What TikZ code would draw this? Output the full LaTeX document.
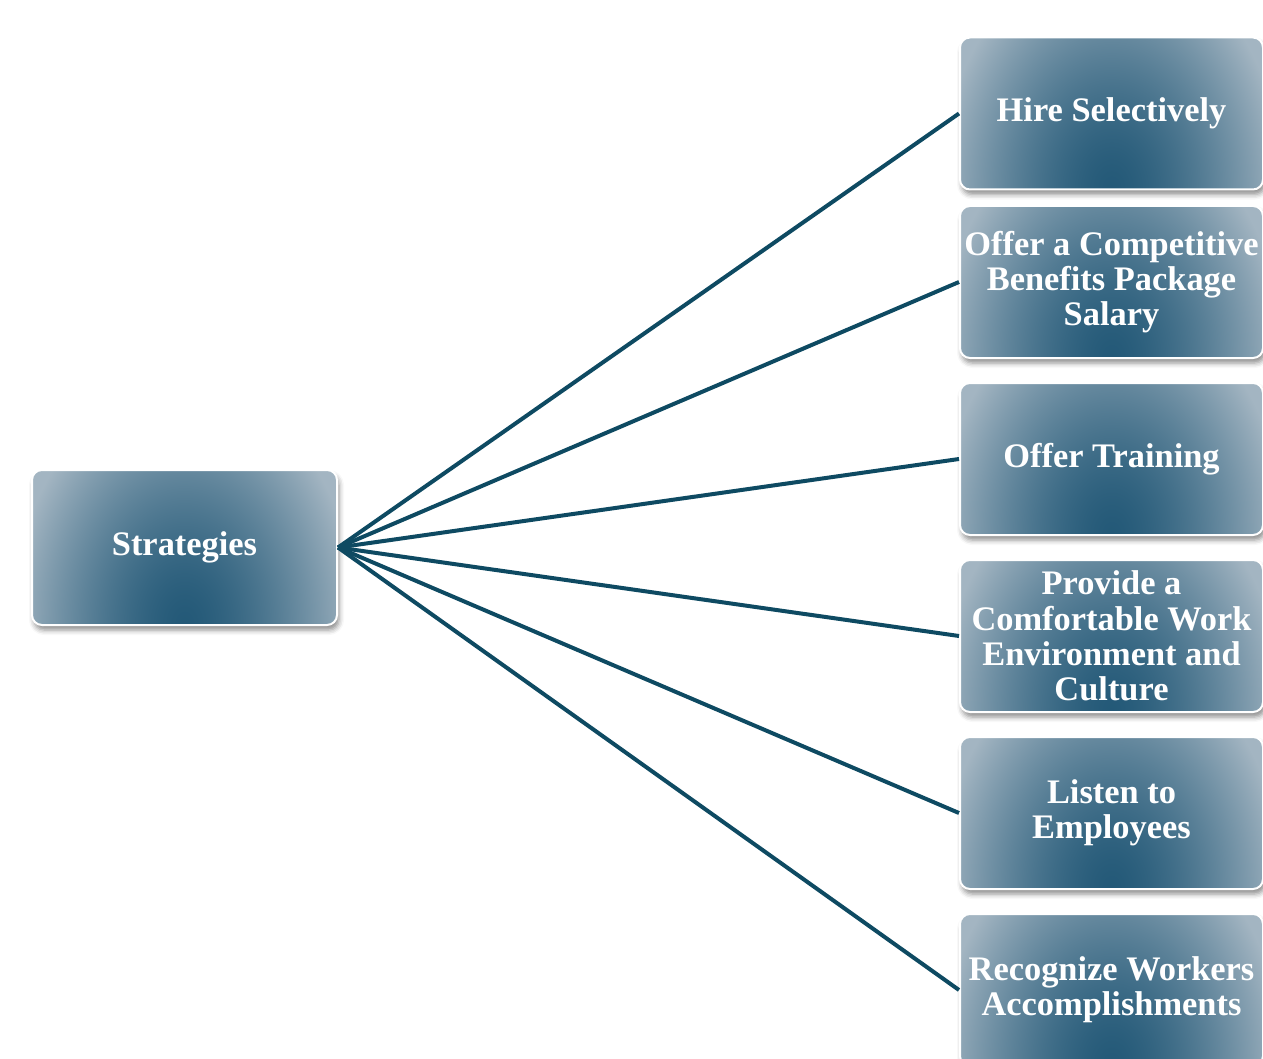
\documentclass[tikz,border=0pt]{standalone}
\usepackage{fontspec}
\setmainfont{Liberation Serif}
\usetikzlibrary{shadows.blur}
\definecolor{linkcol}{HTML}{0E4A62}
\pgfdeclarefunctionalshading{boxfn}{\pgfpoint{-50bp}{-50bp}}{\pgfpoint{50bp}{50bp}}{}{
  25 add 78 div dup mul
  exch 28.3 div dup mul add 0.75 exp
  dup 1 gt {pop 1} if
  dup 0.50 mul 0.14 add
  exch dup 0.36 mul 0.35 add
  exch 0.29 mul 0.47 add
}
\tikzset{
  box/.style={rounded corners=5pt, draw=white, line width=1pt, shading=boxfn,
    minimum width=151.5pt, minimum height=76pt, inner sep=0pt, align=center,
    text=white, font=\bfseries\fontsize{17.2}{17.6}\selectfont,
    blur shadow={shadow xshift=1pt, shadow yshift=-2.5pt, shadow blur radius=2.5pt, shadow opacity=45}},
  link/.style={draw=linkcol, line width=2pt}
}
\begin{document}
\begin{tikzpicture}[x=0.5pt,y=-0.5pt]
\useasboundingbox (0,0) rectangle (1263,1059);
\node[box, minimum width=152.5pt, minimum height=77.5pt] (s) at (184.5,547.5) {Strategies};
\node[box] (b1) at (1111.5,113.5) {Hire Selectively};
\node[box] (b2) at (1111.5,282) {Offer a Competitive\\Benefits Package\\Salary};
\node[box] (b3) at (1111.5,459) {Offer Training};
\node[box] (b4) at (1111.5,636) {Provide a\\Comfortable Work\\Environment and\\Culture};
\node[box] (b5) at (1111.5,813) {Listen to\\Employees};
\node[box] (b6) at (1111.5,990) {Recognize Workers\\Accomplishments};
\foreach \b in {b1,b2,b3,b4,b5,b6}
  \draw[link] (s.east) -- (\b.west);
\end{tikzpicture}
\end{document}
